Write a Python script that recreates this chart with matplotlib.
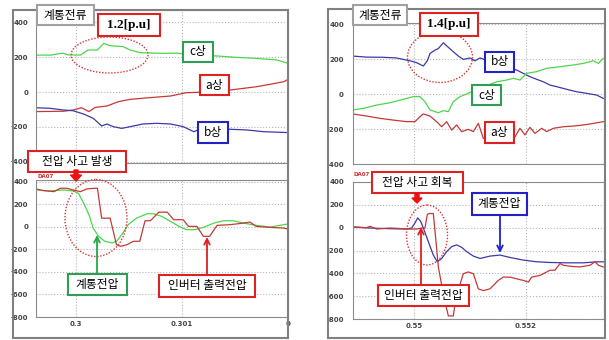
import numpy as np
import matplotlib
matplotlib.use("Agg")
import matplotlib.pyplot as plt
from matplotlib.patches import Rectangle, Ellipse, FancyArrow

plt.rcParams['font.family'] = ['Noto Sans CJK KR', 'DejaVu Sans']

# ---- left panel: fault occurs (t ~ 0.300 s) ----
t_cL = [0.29962, 0.29976, 0.29987, 0.29993, 0.30004, 0.30011, 0.30020, 0.30026, 0.30032, 0.30044,
        0.30051, 0.30060, 0.30082, 0.30095, 0.30105, 0.30133, 0.30152, 0.30171, 0.30190, 0.30200]
c_L = [211, 211, 222, 212, 211, 240, 240, 278, 265, 260, 240, 225, 221, 222, 217, 206, 198, 192, 183, 164]

t_aL = [0.29962, 0.29988, 0.29997, 0.30005, 0.30012, 0.30018, 0.30029, 0.30040, 0.30051, 0.30070,
        0.30089, 0.30104, 0.30114, 0.30145, 0.30158, 0.30170, 0.30183, 0.30196, 0.30200]
a_L = [-112, -110, -103, -90, -112, -88, -80, -55, -42, -32, -23, -4, -2, 11, 21, 30, 44, 59, 72]

t_bL = [0.29962, 0.29975, 0.29988, 0.29997, 0.30007, 0.30016, 0.30024, 0.30029, 0.30035, 0.30043,
        0.30051, 0.30063, 0.30076, 0.30089, 0.30101, 0.30111, 0.30117, 0.30145, 0.30161, 0.30177, 0.30200]
b_L = [-90, -93, -103, -107, -126, -150, -194, -183, -198, -208, -198, -183, -179, -183, -198, -227,
       -213, -213, -217, -227, -232]

t_invL = [0.29962, 0.29969, 0.29979, 0.29985, 0.29991, 0.29997, 0.30004, 0.30010, 0.30018, 0.30020,
          0.30024, 0.30032, 0.30038, 0.30042, 0.30048, 0.30054, 0.30060, 0.30065, 0.30070, 0.30078,
          0.30086, 0.30092, 0.30101, 0.30106, 0.30114, 0.30120, 0.30126, 0.30133, 0.30145, 0.30158,
          0.30164, 0.30170, 0.30183, 0.30196, 0.30200]
inv_L = [335, 320, 311, 341, 341, 326, 311, 335, 341, 341, 76, 76, -159, -174, -159, -129, -129, 53, 53,
         129, 129, 62, 62, 3, 3, -85, -85, 12, 18, 32, 41, 3, -6, -12, -21]

t_gridL = [0.29962, 0.29975, 0.29988, 0.29997, 0.30002, 0.30007, 0.30012, 0.30016, 0.30021, 0.30027,
           0.30034, 0.30038, 0.30043, 0.30049, 0.30057, 0.30067, 0.30073, 0.30081, 0.30089, 0.30097,
           0.30104, 0.30112, 0.30120, 0.30130, 0.30139, 0.30148, 0.30158, 0.30170, 0.30183, 0.30196, 0.30200]
grid_L = [326, 317, 326, 317, 297, 209, 106, -12, -85, -129, -144, -129, -70, 18, 76, 115, 115, 91, 47, 3,
          -26, -26, -6, 32, 53, 53, 32, 12, -3, 18, 24]

# ---- right panel: fault recovery (t ~ 0.550 s) ----
t_bR = [0.548905, 0.549155, 0.549452, 0.549690, 0.549929, 0.550048, 0.550167, 0.550238, 0.550286,
        0.550375, 0.550435, 0.550524, 0.550613, 0.550702, 0.550792, 0.550881, 0.551000, 0.551089,
        0.551179, 0.551834, 0.551952, 0.552071, 0.552191, 0.552309, 0.552429, 0.552548, 0.552726,
        0.552905, 0.553083, 0.553262, 0.553381]
b_R = [217, 211, 210, 206, 190, 179, 160, 190, 232, 251, 260, 293, 267, 242, 217, 198, 206, 190, 206,
       137, 118, 99, 84, 70, 51, 42, 27, 13, 4, -6, -25]

t_cR = [0.548905, 0.549095, 0.549333, 0.549571, 0.549810, 0.549988, 0.550107, 0.550196, 0.550286,
        0.550435, 0.550524, 0.550613, 0.550702, 0.550821, 0.550940, 0.551030, 0.551476, 0.551655,
        0.551774, 0.551893, 0.552012, 0.552191, 0.552369, 0.552607, 0.552845, 0.553024, 0.553202,
        0.553292, 0.553381]
c_R = [-91, -82, -63, -50, -30, -15, -15, -44, -91, -107, -95, -101, -44, -15, 0, 13, 70, 80, 90, 80,
       118, 128, 147, 156, 166, 175, 190, 175, 204]

t_aR = [0.548905, 0.549155, 0.549393, 0.549631, 0.549869, 0.550018, 0.550107, 0.550167, 0.550286,
        0.550405, 0.550494, 0.550583, 0.550673, 0.550762, 0.550851, 0.550970, 0.551060, 0.551149,
        0.551238, 0.551804, 0.551893, 0.551982, 0.552071, 0.552161, 0.552280, 0.552369, 0.552488,
        0.552667, 0.552845, 0.553024, 0.553202, 0.553381]
a_R = [-114, -126, -139, -149, -158, -158, -130, -114, -126, -158, -187, -158, -206, -177, -215, -202,
       -215, -168, -253, -244, -196, -234, -190, -225, -196, -215, -196, -187, -183, -177, -168, -158]

t_gridR = [0.548905, 0.549214, 0.549571, 0.549869, 0.549958, 0.550018, 0.550066, 0.550119, 0.550167,
           0.550256, 0.550345, 0.550417, 0.550494, 0.550583, 0.550673, 0.550762, 0.550851, 0.550940,
           0.551060, 0.551179, 0.551357, 0.551536, 0.551714, 0.551952, 0.552191, 0.552429, 0.552726,
           0.553024, 0.553262, 0.553381]
grid_R = [6, -3, -9, -12, -3, 41, 86, 56, -3, -122, -240, -299, -270, -210, -166, -151, -172, -210, -249,
          -270, -249, -240, -261, -284, -299, -305, -308, -308, -299, -299]

t_invR = [0.548905, 0.549155, 0.549214, 0.549333, 0.549571, 0.549929, 0.550048, 0.550137, 0.550196,
          0.550238, 0.550274, 0.550345, 0.550393, 0.550435, 0.550524, 0.550613, 0.550702, 0.550750,
          0.550881, 0.550970, 0.551060, 0.551149, 0.551238, 0.551357, 0.551506, 0.551595, 0.551714,
          0.551834, 0.551952, 0.552042, 0.552101, 0.552250, 0.552369, 0.552429, 0.552518, 0.552607,
          0.552667, 0.552786, 0.552964, 0.553143, 0.553232, 0.553292, 0.553381]
inv_R = [6, 0, 12, -12, -3, -12, -12, -3, -3, 116, 124, 124, -122, -344, -581, -773, -773, -610, -403,
         -388, -403, -536, -551, -536, -462, -433, -433, -448, -462, -477, -433, -418, -388, -373, -373,
         -314, -329, -338, -344, -329, -299, -329, -344]

xticks_L = [0.3, 0.301, 0.302]
xlabels_L = ['0.3', '0.301', '0']
xticks_R = [0.55, 0.552]
xlabels_R = ['0.55', '0.552']

GREEN, RED, BLUE = '#4cd64a', '#c23a36', '#3a3aa8'
BOX_G, BOX_R, BOX_B = '#2f9e55', '#dd2222', '#2222c8'

W, H = 609, 340
fig = plt.figure(figsize=(W / 100, H / 100), dpi=100)


def rect(x0, y0, x1, y1):
    return [x0 / W, 1 - y1 / H, (x1 - x0) / W, (y1 - y0) / H]


def style(ax, xlim, ylim, xticks, yticks, xlabels=None, pad_y=5.5):
    ax.set_xlim(*xlim)
    ax.set_ylim(*ylim)
    ax.set_xticks(xticks)
    ax.set_yticks(yticks)
    ax.set_yticklabels([str(v) for v in yticks])
    if xlabels is None:
        ax.set_xticklabels([])
    else:
        ax.set_xticklabels(xlabels)
    ax.grid(True, linestyle=':', color='#b5b5b5', lw=0.8)
    ax.tick_params(length=0, labelsize=5, labelcolor='#444444')
    ax.tick_params(axis='y', pad=pad_y)
    ax.tick_params(axis='x', pad=3)
    for lbl in ax.get_xticklabels() + ax.get_yticklabels():
        lbl.set_fontweight('bold')
        lbl.set_family('DejaVu Sans')
    for s in ax.spines.values():
        s.set_color('#8c8c8c')
        s.set_linewidth(0.8)


ax_tl = fig.add_axes(rect(36, 10, 288, 163))
ax_tl.plot(t_cL, c_L, color=GREEN, lw=0.9)
ax_tl.plot(t_aL, a_L, color=RED, lw=0.9)
ax_tl.plot(t_bL, b_L, color=BLUE, lw=0.9)
style(ax_tl, (0.29962, 0.302), (-406, 469), xticks_L[:2], [-400, -200, 0, 200, 400])

ax_bl = fig.add_axes(rect(36, 180, 288, 317))
ax_bl.plot(t_gridL, grid_L, color=GREEN, lw=0.9)
ax_bl.plot(t_invL, inv_L, color=RED, lw=0.9)
style(ax_bl, (0.29962, 0.302), (-800, 414), xticks_L, list(range(-800, 401, 200)), xlabels_L)

ax_tr = fig.add_axes(rect(353, 23, 604, 164))
ax_tr.plot(t_bR, b_R, color=BLUE, lw=0.9)
ax_tr.plot(t_cR, c_R, color=GREEN, lw=0.9)
ax_tr.plot(t_aR, a_R, color=RED, lw=0.9)
style(ax_tr, (0.548911, 0.553393), (-400, 406), xticks_R, [-400, -200, 0, 200, 400], pad_y=6.5)

ax_br = fig.add_axes(rect(353, 182, 604, 319))
ax_br.plot(t_gridR, grid_R, color=BLUE, lw=0.9)
ax_br.plot(t_invR, inv_R, color=RED, lw=0.9)
style(ax_br, (0.548911, 0.553393), (-800, 400), xticks_R, list(range(-800, 401, 200)), xlabels_R, pad_y=6.5)

# ---- overlay for frames, boxes and callouts (pixel coordinates) ----
ov = fig.add_axes([0, 0, 1, 1])
ov.set_xlim(0, W)
ov.set_ylim(H, 0)
ov.axis('off')
ov.patch.set_alpha(0)

ov.add_patch(Rectangle((13, 10), 275, 328, fill=False, ec='#808080', lw=1.5))
ov.add_patch(Rectangle((328, 9), 277, 329, fill=False, ec='#808080', lw=1.5))

ov.text(37, 176, 'DA07', color='#d03030', fontsize=4, fontweight='bold', va='center', family='DejaVu Sans')
ov.text(353, 175, 'DA07', color='#d03030', fontsize=4, fontweight='bold', va='center', family='DejaVu Sans')


def box(x0, y0, x1, y1, text, ec, size=8.5, **kw):
    ov.add_patch(Rectangle((x0, y0), x1 - x0, y1 - y0, fc='white', ec=ec, lw=1.5, zorder=3))
    ov.text((x0 + x1) / 2, (y0 + y1) / 2, text, ha='center', va='center', fontsize=size,
            color='black', zorder=4, **kw)


def ring(cx, cy, w, h):
    ov.add_patch(Ellipse((cx, cy), w, h, fill=False, ec='#e03030', ls=(0, (1, 1.2)), lw=1.0, zorder=2))


def thin_arrow(x, y_from, y_to, color):
    ov.annotate('', xy=(x, y_to), xytext=(x, y_from),
                arrowprops=dict(arrowstyle='->', color=color, lw=1.3, shrinkA=0, shrinkB=0))


# left panel
ring(109.5, 55, 77, 36)
ring(96, 218, 62, 77)
box(37, 5, 94, 25, '계통전류', '#a0a0a0', 8.5)
box(98, 14, 160, 36, '1.2[p.u]', BOX_R, 9.5, family='Liberation Serif', fontweight='bold')
box(183, 42, 213, 62, 'c상', BOX_G)
box(200, 75, 229, 95, 'a상', BOX_R)
box(198, 122, 228, 143, 'b상', BOX_B)
box(28, 151, 126, 172, '전압 사고 발생', BOX_R)
ov.add_patch(FancyArrow(76, 170, 0, 11, width=4, head_width=11, head_length=6,
                        length_includes_head=True, color='#ee1111', zorder=4))
thin_arrow(97, 274, 235, '#22aa44')
box(68, 274, 127, 295, '계통전압', BOX_G)
thin_arrow(207, 275, 237, '#e02020')
box(159, 275, 255, 297, '인버터 출력전압', BOX_R)

# right panel
ring(440, 57, 65, 51)
ring(427, 235, 41, 60)
box(353, 5, 407, 25, '계통전류', '#a0a0a0', 8.5)
box(420, 13, 478, 36, '1.4[p.u]', BOX_R, 9.5, family='Liberation Serif', fontweight='bold')
box(485, 52, 514, 72, 'b상', BOX_B)
box(472, 85, 501, 105, 'c상', BOX_G)
box(485, 122, 514, 143, 'a상', BOX_R)
box(372, 172, 463, 193, '전압 사고 회복', BOX_R)
ov.add_patch(FancyArrow(417, 193, 0, 10, width=4, head_width=10, head_length=5,
                        length_includes_head=True, color='#ee1111', zorder=4))
box(472, 193, 527, 215, '계통전압', BOX_B)
thin_arrow(500, 215, 253, '#2222cc')
thin_arrow(421, 285, 227, '#e02020')
box(378, 285, 469, 306, '인버터 출력전압', BOX_R)

fig.savefig('out.png', dpi=100)
